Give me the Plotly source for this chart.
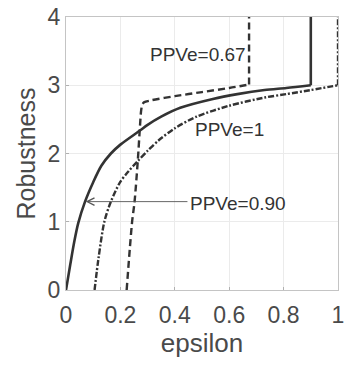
import plotly.graph_objects as go

# Data
solid_x = [0.0, 0.016, 0.030, 0.045, 0.070, 0.100, 0.130, 0.165, 0.200, 0.273, 0.300, 0.350, 0.420, 0.540, 0.630, 0.730, 0.810, 0.900]
solid_y = [0.0, 0.38, 0.70, 0.98, 1.295, 1.58, 1.82, 2.0, 2.13, 2.34, 2.42, 2.54, 2.67, 2.80, 2.87, 2.93, 2.96, 3.0]
solid_cap_x = [0.900, 0.900]
solid_cap_y = [3.0, 4.0]

dashdot_x = [0.105, 0.120, 0.141, 0.165, 0.199, 0.230, 0.264, 0.300, 0.340, 0.400, 0.480, 0.600, 0.730, 0.810, 0.900, 1.000]
dashdot_y = [0.0, 0.48, 1.0, 1.295, 1.58, 1.74, 1.89, 2.04, 2.19, 2.37, 2.54, 2.70, 2.82, 2.87, 2.93, 3.0]
dashdot_cap_x = [1.000, 1.000]
dashdot_cap_y = [3.0, 4.0]

dashed_x = [0.223, 0.243, 0.252, 0.264, 0.272, 0.276, 0.280, 0.287, 0.314, 0.400, 0.500, 0.600, 0.673]
dashed_y = [0.0, 1.0, 1.29, 1.90, 2.40, 2.62, 2.71, 2.75, 2.78, 2.84, 2.90, 2.96, 3.01]
dashed_cap_x = [0.673, 0.673]
dashed_cap_y = [3.01, 4.0]

x_ticks = [0, 0.2, 0.4, 0.6, 0.8, 1]
x_tick_labels = ["0", "0.2", "0.4", "0.6", "0.8", "1"]
y_ticks = [0, 1, 2, 3, 4]
y_tick_labels = ["0", "1", "2", "3", "4"]

FONT = "Liberation Sans, Arial, sans-serif"
LINE = "#333333"
SOLID = dict(color=LINE, width=2.6)
DASHDOT = dict(color=LINE, width=2.4, dash="6px,2px,2px,2px")
DASHED = dict(color=LINE, width=2.4, dash="7px,4px")

fig = go.Figure()
for xs, ys, ln, shape in [
    (solid_x, solid_y, SOLID, "spline"),
    (solid_cap_x, solid_cap_y, SOLID, "linear"),
    (dashdot_x, dashdot_y, DASHDOT, "spline"),
    (dashdot_cap_x, dashdot_cap_y, DASHDOT, "linear"),
    (dashed_x, dashed_y, DASHED, "spline"),
    (dashed_cap_x, dashed_cap_y, DASHED, "linear"),
]:
    line = dict(ln)
    line["shape"] = shape
    if shape == "spline":
        line["smoothing"] = 0.8
    fig.add_trace(go.Scatter(x=xs, y=ys, mode="lines", line=line, showlegend=False,
                             cliponaxis=False))

ann_font = dict(family=FONT, size=19, color="#333333")
fig.add_annotation(x=0.484, y=3.45, text="PPVe=0.67", showarrow=False, font=ann_font,
                   xanchor="center", yanchor="middle")
fig.add_annotation(x=0.60, y=2.35, text="PPVe=1", showarrow=False, font=ann_font,
                   xanchor="center", yanchor="middle")
fig.add_annotation(x=0.631, y=1.27, text="PPVe=0.90", showarrow=False, font=ann_font,
                   xanchor="center", yanchor="middle")
fig.add_annotation(x=0.072, y=1.295, ax=0.452, ay=1.295, axref="x", ayref="y",
                   text="", showarrow=True, arrowhead=5, arrowsize=1.6, arrowwidth=0.9,
                   arrowcolor="#555555", standoff=0, startstandoff=0)

axis_common = dict(showgrid=True, gridcolor="#ebebeb", gridwidth=1,
                   showline=True, linecolor="#c4c4c4", linewidth=1, mirror=True,
                   ticks="inside", ticklen=3, tickcolor="#b0b0b0",
                   zeroline=False, ticklabeloverflow="allow",
                   tickfont=dict(family=FONT, size=23, color="#4a4a4a"))

fig.update_xaxes(range=[0, 1], tickvals=x_ticks, ticktext=x_tick_labels,
                 ticklabelstandoff=4,
                 title=dict(text="epsilon", font=dict(family=FONT, size=26, color="#4a4a4a"), standoff=6),
                 **axis_common)
fig.update_yaxes(range=[0, 4], tickvals=y_ticks, ticktext=y_tick_labels,
                 title=dict(text="Robustness", font=dict(family=FONT, size=25, color="#4a4a4a"), standoff=4),
                 **axis_common)

fig.update_layout(width=348, height=365, margin=dict(l=66, r=4, t=12, b=75),
                  paper_bgcolor="white", plot_bgcolor="white")

fig.write_html("out.html")
